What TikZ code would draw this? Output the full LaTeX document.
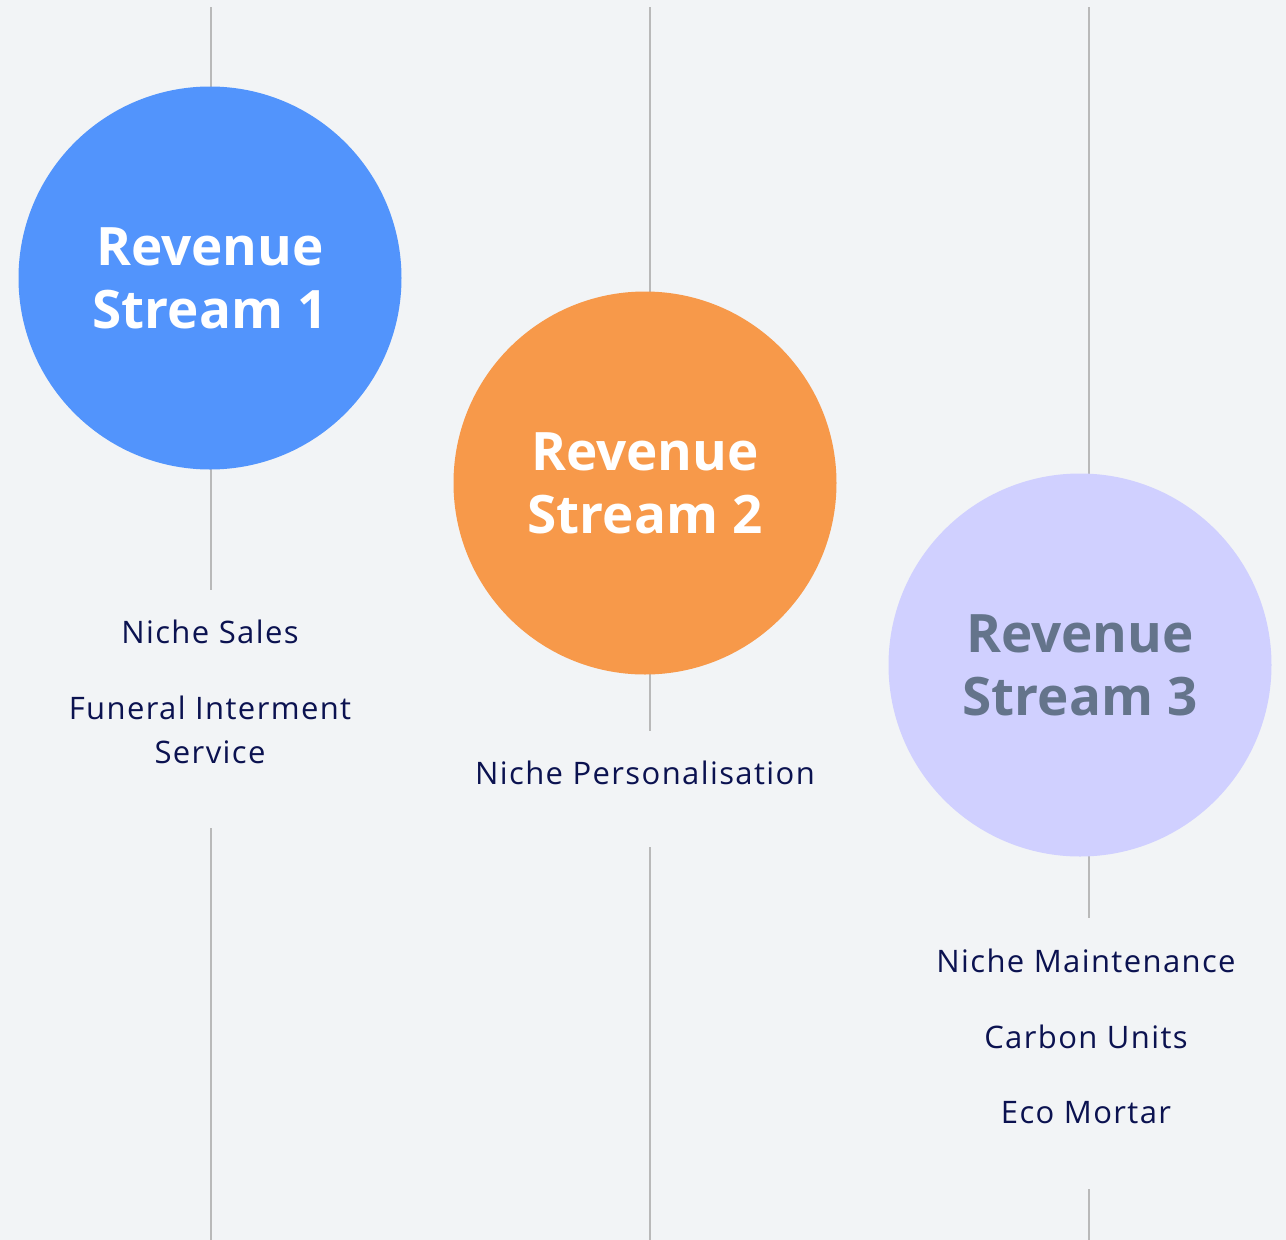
\documentclass[tikz,border=0pt]{standalone}
\usepackage{fontspec}
\setmainfont{Open Sans}
\newfontfamily\lblfont{Open Sans}[LetterSpace=4.5]
\begin{document}
\begin{tikzpicture}[x=1pt,y=-1pt,
  vline/.style={draw=gray!55, line width=2pt},
  stream/.style={circle, minimum size=383pt, inner sep=0pt, align=center,
    font=\fontsize{53}{63}\selectfont\bfseries},
  lbl/.style={align=center, text=navy, font=\lblfont\fontsize{31}{44}\selectfont, inner sep=0pt}]
\definecolor{bg}{HTML}{F2F4F6}
\definecolor{navy}{HTML}{0B1250}
\definecolor{sblue}{HTML}{5294FC}
\definecolor{sorange}{HTML}{F7994A}
\definecolor{slav}{HTML}{D0D0FF}
\definecolor{sslate}{HTML}{64748B}
\useasboundingbox (0,0) rectangle (1286,1240);
\fill[bg] (0,0) rectangle (1286,1240);
% line anchors
\coordinate (a1) at (211,7);   \coordinate (a2) at (211,590);
\coordinate (a3) at (211,828); \coordinate (a4) at (211,1240);
\coordinate (b1) at (650,7);   \coordinate (b2) at (650,731);
\coordinate (b3) at (650,847); \coordinate (b4) at (650,1240);
\coordinate (c1) at (1089,7);  \coordinate (c2) at (1089,918);
\coordinate (c3) at (1089,1189); \coordinate (c4) at (1089,1240);
\draw[vline] (a1) -- (a2); \draw[vline] (a3) -- (a4);
\draw[vline] (b1) -- (b2); \draw[vline] (b3) -- (b4);
\draw[vline] (c1) -- (c2); \draw[vline] (c3) -- (c4);
% circles
\node[stream, fill=sblue, text=white] (s1) at (210,278) {Revenue\\Stream 1};
\node[stream, fill=sorange, text=white] (s2) at (645,483) {Revenue\\Stream 2};
\node[stream, fill=slav, text=sslate] (s3) at (1080,665) {Revenue\\Stream 3};
% labels
\node[lbl] (l11) at (210,632) {Niche Sales};
\node[lbl] (l12) at (210,730) {Funeral Interment\\Service};
\node[lbl] (l21) at (645,773) {Niche Personalisation};
\node[lbl] (l31) at (1086,961) {Niche Maintenance};
\node[lbl] (l32) at (1086,1037) {Carbon Units};
\node[lbl] (l33) at (1086,1113) {Eco Mortar};
\end{tikzpicture}
\end{document}
